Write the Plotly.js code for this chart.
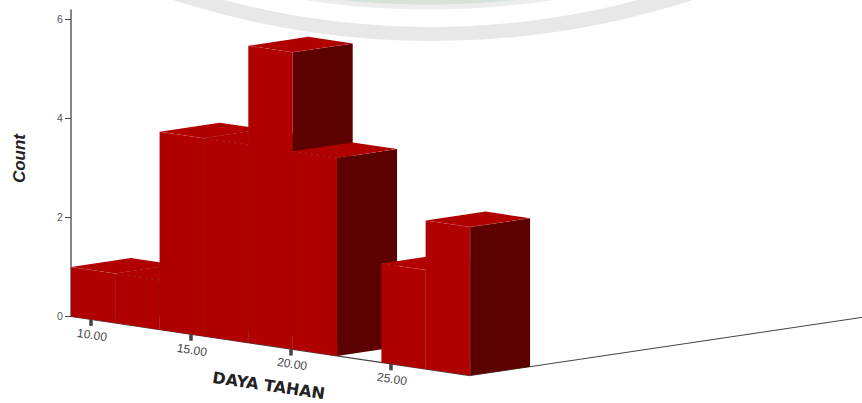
<!DOCTYPE html>
<html>
<head>
<meta charset="utf-8">
<script src="https://cdn.plot.ly/plotly-3.0.1.min.js"></script>
<style>html,body{margin:0;padding:0;background:#fff}#chart{width:862px;height:403px}</style>
</head>
<body>
<div id="chart"></div>
<script>
// --- data ---
const binStart = 9;
const binWidth = 2.217;
const binCounts = [1, 1, 4, 4, 6, 4, 0, 2, 3];
const xTickValues = [10, 15, 20, 25];
const xTickLabels = ['10.00', '15.00', '20.00', '25.00'];
const yTickValues = [0, 2, 4, 6];

// --- oblique view, expressed in axis units ---
const W = 862, H = 403;
const xRange = [5.45, 48.55];
const yRange = [-1.747, 6.394];
const shear = 0.0598;      // counts dropped per x unit along the front edge
const depthX = 3.0;        // x units for the depth of a bar
const depthY = 0.18;       // counts gained for the depth of a bar
const floorDepth = 6.6;

const RED = '#b00000', DARK = '#5c0000', AXIS = '#444444';
const px = (v, d) => v + d * depthX;
const py = (v, d, c) => c - shear * (v - binStart) + d * depthY;

function poly(pts, color) {
  return {
    type: 'scatter', mode: 'lines', hoverinfo: 'skip', showlegend: false,
    x: pts.map(p => px(p[0], p[1])), y: pts.map(p => py(p[0], p[1], p[2])),
    fill: 'toself', fillcolor: color, line: {width: 0, color: color}
  };
}
function line(pts, color, width, dash) {
  return {
    type: 'scatter', mode: 'lines', hoverinfo: 'skip', showlegend: false,
    x: pts.map(p => px(p[0], p[1])), y: pts.map(p => py(p[0], p[1], p[2])),
    line: {color: color, width: width, dash: dash || 'solid'}
  };
}

const binEnd = binStart + binWidth * binCounts.length;
const traces = [];

// floor edges and count axis
traces.push(line([[binStart, 0, 0], [binEnd, 0, 0]], AXIS, 1.2));
traces.push(line([[binEnd, 0, 0], [binEnd, floorDepth, 0]], AXIS, 1));
traces.push({
  type: 'scatter', mode: 'lines', hoverinfo: 'skip', showlegend: false,
  x: [binStart, binStart], y: [0, 6.2], line: {color: AXIS, width: 1.3}
});

// x ticks
xTickValues.forEach(v => {
  const base = py(v, 0, 0);
  traces.push({
    type: 'scatter', mode: 'lines', hoverinfo: 'skip', showlegend: false,
    x: [v, v], y: [base, base - 0.13], line: {color: AXIS, width: 3.5}
  });
});

// bars, painted left to right
binCounts.forEach((c, i) => {
  if (!c) return;
  const a = binStart + i * binWidth, b = a + binWidth;
  traces.push(poly([[b, 0, 0], [b, 1, 0], [b, 1, c], [b, 0, c], [b, 0, 0]], DARK));
  traces.push(poly([[a, 0, c], [a, 1, c], [b, 1, c], [b, 0, c], [a, 0, c]], RED));
  traces.push(poly([[a, 0, 0], [b, 0, 0], [b, 0, c], [a, 0, c], [a, 0, 0]], RED));
  if (i > 0 && binCounts[i - 1]) {
    traces.push(line([[a, 0, 0], [a, 0, c]], 'rgba(110,70,70,0.4)', 0.5));
  }
  traces.push(line([[a, 0, c], [b, 0, c]], 'rgba(235,170,170,0.35)', 0.5, 'dot'));
  traces.push(line([[b, 0, c], [b, 1, c]], 'rgba(235,170,170,0.35)', 0.5, 'dot'));
  if (i === binCounts.length - 1) {
    traces.push(line([[b, 0, 0], [b, 0, c]], 'rgba(150,120,120,0.7)', 0.5));
  }
});

// slanted tick labels and titles
const slant = 8.4;
const annotations = xTickValues.map((v, i) => ({
  x: v + 0.05, y: py(v, 0, 0) - 0.31, xref: 'x', yref: 'y',
  text: xTickLabels[i], showarrow: false, textangle: slant,
  font: {family: 'Liberation Sans', size: 12, color: '#444444'}
}));
annotations.push({
  x: 18.85, y: -1.39, xref: 'x', yref: 'y', text: 'DAYA TAHAN', showarrow: false,
  textangle: slant, font: {family: 'DejaVu Sans', size: 16, color: '#222222', weight: 700}
});
annotations.push({
  x: 6.4, y: 3.2, xref: 'x', yref: 'y', text: '<i>Count</i>', showarrow: false,
  textangle: -90, font: {family: 'Liberation Sans Narrow, Liberation Sans', size: 17, color: '#222222', weight: 700}
});

// faint watermark arcs at the top edge
function disc(cx, cy, r, color) {
  return {
    type: 'circle', xref: 'paper', yref: 'paper', layer: 'below',
    x0: (cx - r) / W, x1: (cx + r) / W, y0: 1 - (cy + r) / H, y1: 1 - (cy - r) / H,
    fillcolor: color, line: {width: 0}
  };
}
const shapes = [
  disc(433, -804, 845, '#e8e8e8'),
  disc(431, -780, 807, '#ffffff'),
  disc(429, -817.5, 827, '#ededed'),
  disc(428, -838.5, 843, '#d5e3da')
];

const layout = {
  width: W, height: H,
  margin: {l: 0, r: 0, t: 0, b: 0},
  paper_bgcolor: '#ffffff', plot_bgcolor: 'rgba(0,0,0,0)',
  showlegend: false,
  xaxis: {range: xRange, visible: false, fixedrange: true},
  yaxis: {
    range: yRange, anchor: 'free', position: 71 / W, side: 'left',
    tickmode: 'array', tickvals: yTickValues, ticktext: yTickValues.map(String),
    ticks: 'outside', ticklen: 6, tickwidth: 1.2, tickcolor: AXIS,
    showgrid: false, zeroline: false, showline: false, fixedrange: true,
    tickfont: {family: 'Liberation Sans', size: 10.5, color: '#555555'}
  },
  shapes: shapes,
  annotations: annotations
};

Plotly.newPlot('chart', traces, layout, {displayModeBar: false, staticPlot: true});
</script>
</body>
</html>
